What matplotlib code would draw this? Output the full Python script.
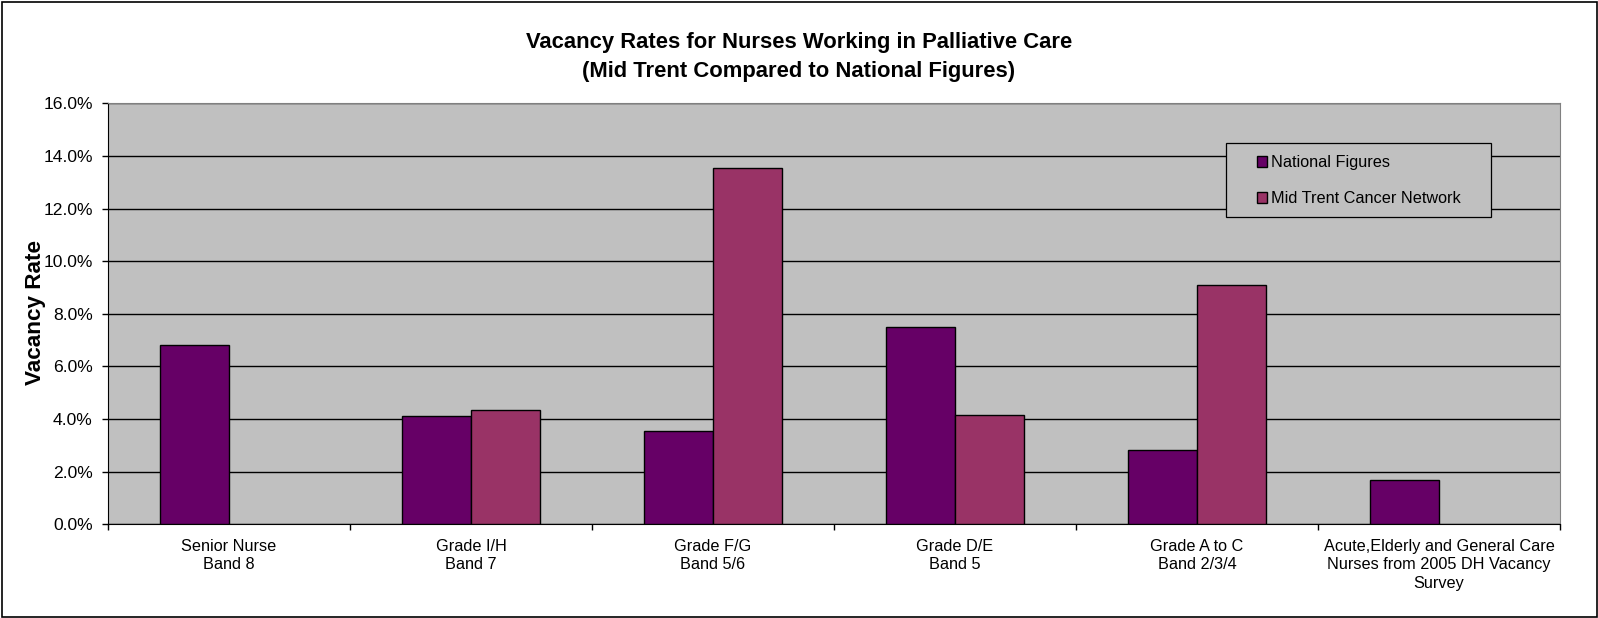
import matplotlib
matplotlib.use("Agg")
import matplotlib.pyplot as plt
import numpy as np
from matplotlib.patches import Rectangle
from matplotlib.ticker import FuncFormatter, MultipleLocator

categories = ["Senior Nurse\nBand 8", "Grade I/H\nBand 7", "Grade F/G\nBand 5/6",
              "Grade D/E\nBand 5", "Grade A to C\nBand 2/3/4",
              "Acute,Elderly and General Care\nNurses from 2005 DH Vacancy\nSurvey"]
national = [6.80, 4.12, 3.55, 7.49, 2.81, 1.70]
mid_trent = [np.nan, 4.36, 13.53, 4.16, 9.08, np.nan]
series_names = ["National Figures", "Mid Trent Cancer Network"]
colors = ["#660066", "#993366"]
title_lines = ["Vacancy Rates for Nurses Working in Palliative Care",
               "(Mid Trent Compared to National Figures)"]

plt.rcParams['font.family'] = ['Liberation Sans', 'DejaVu Sans']

W, H = 1598, 618
fig = plt.figure(figsize=(W / 100, H / 100), dpi=100)
AX_L, AX_R, AX_T, AX_B = 108, 1560, 103.3, 524.3
ax = fig.add_axes([AX_L / W, 1 - AX_B / H, (AX_R - AX_L) / W, (AX_B - AX_T) / H])

x = np.arange(len(categories))
bw = 1 / 3.5
ax.bar(x - bw / 2, national, width=bw, color=colors[0], edgecolor="black", linewidth=1,
       label=series_names[0], zorder=3)
ax.bar(x + bw / 2, mid_trent, width=bw, color=colors[1], edgecolor="black", linewidth=1,
       label=series_names[1], zorder=3)

ax.set_facecolor("#C0C0C0")
ax.set_xlim(-0.5, len(categories) - 0.5)
ax.set_ylim(0, 16)
ax.yaxis.set_major_locator(MultipleLocator(2))
ax.yaxis.set_major_formatter(FuncFormatter(lambda v, p: f"{v:.1f}%"))
ax.grid(axis="y", color="black", linewidth=1, zorder=1)
ax.set_axisbelow(True)

ax.set_xticks(x)
ax.set_xticklabels(categories, fontsize=11.7, linespacing=1.3)
ax.set_xticks(np.arange(-0.5, len(categories), 1), minor=True)
ax.tick_params(axis="x", which="major", length=0, pad=10.5)
ax.tick_params(axis="x", which="minor", length=4, width=1, direction="out")
ax.tick_params(axis="y", length=4, width=1, direction="out", labelsize=12.6, pad=7)

for s in ["top", "right"]:
    ax.spines[s].set_color("#808080")
for s in ["left", "bottom"]:
    ax.spines[s].set_color("black")

# y label
fig.text(35 / W, 1 - 312.5 / H, "Vacancy Rate", rotation=90, ha="center", va="center",
         fontsize=16.2, fontweight="bold")

# title
fig.text(0.5, 1 - 48.3 / H, title_lines[0], ha="center", va="baseline", fontsize=15.8, fontweight="bold")
fig.text(0.5, 1 - 76.7 / H, title_lines[1], ha="center", va="baseline", fontsize=15.8, fontweight="bold")

# legend box
LB_L, LB_R, LB_T, LB_B = 1225.7, 1491, 143.3, 216.7
fig.patches.append(Rectangle((LB_L / W, 1 - LB_B / H), (LB_R - LB_L) / W, (LB_B - LB_T) / H,
                             transform=fig.transFigure, facecolor="#C0C0C0", edgecolor="black",
                             linewidth=0.9, zorder=4))
leg = fig.legend(*ax.get_legend_handles_labels(), loc="upper left",
                 bbox_to_anchor=(1256.5 / W, 1 - 155.0 / H),
                 fontsize=11.7, frameon=False, handlelength=0.66, handleheight=0.66,
                 handletextpad=0.25, borderpad=0, labelspacing=1.32, borderaxespad=0)
leg.set_zorder(5)

fig.patches.append(Rectangle((1.5 / W, 1.5 / H), 1 - 3 / W, 1 - 3 / H, transform=fig.transFigure,
                             fill=False, edgecolor="black", linewidth=1.2))

fig.savefig("out.png", dpi=100)
